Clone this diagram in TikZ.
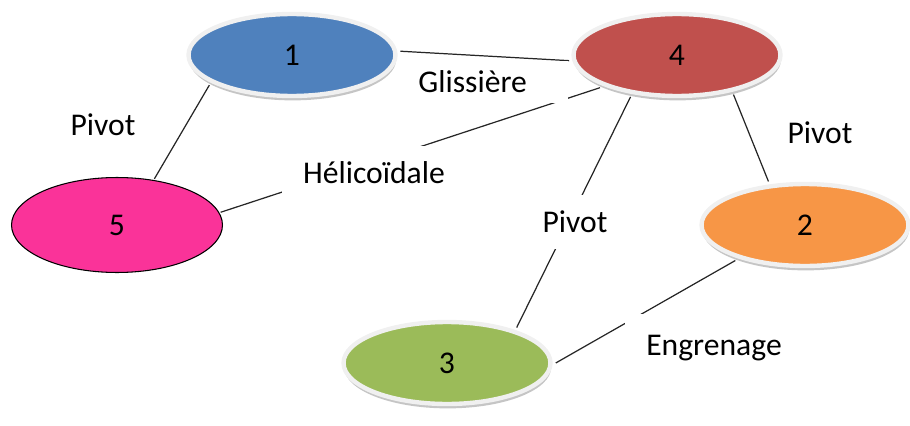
\documentclass[tikz,border=0pt]{standalone}
\usepackage{fontspec}
\setmainfont{Carlito}
\usepackage{tikz}
\usetikzlibrary{shapes.geometric,shadows}

\definecolor{bleu}{HTML}{4F81BD}
\definecolor{rouge}{HTML}{C0504D}
\definecolor{rose}{HTML}{FA3399}
\definecolor{orange}{HTML}{F79646}
\definecolor{vert}{HTML}{9BBB59}

\tikzset{
  forme/.style={ellipse, inner sep=0pt, font=\fontsize{18}{21}\selectfont},
  piece/.style={forme, draw=gray!12, line width=2.5pt, outer sep=3pt,
    minimum width=4.14cm, minimum height=1.64cm,
    drop shadow={shadow xshift=0.4pt, shadow yshift=-2.5pt, fill=black!45, opacity=.5}},
  liaison/.style={fill=white, inner sep=0pt, font=\fontsize{18}{21}\selectfont},
  lien/.style={line width=.7pt, black!85}
}

\begin{document}
\begin{tikzpicture}[x=0.02cm,y=-0.02cm]
  \useasboundingbox (0,0) rectangle (910,426);

  \node[piece, fill=bleu] (node1) at (292,55) {1};
  \node[piece, fill=rouge] (node4) at (677,55) {4};
  \node[piece, fill=orange] (node2) at (805,225) {2};
  \node[piece, fill=vert] (node3) at (447,363) {3};
  \node[forme, fill=rose, draw=black, line width=.6pt, outer sep=1pt,
        minimum width=4.22cm, minimum height=1.9cm] (node5) at (117,225) {5};

  \draw[lien] (node1.2) -- (node4.183);
  \draw[lien] (node1.200) -- (node5.51);
  \draw[lien] (node5.7) -- (node4.203);
  \draw[lien] (node4.222) -- (node3.27);
  \draw[lien] (node4.325) -- (node2.130);
  \draw[lien] (node2.207) -- (node3.0);

  \node[liaison, anchor=west, text width=3cm, align=left, inner ysep=0.2cm] (rel1) at (418,82) {Glissière};
  \node[liaison] (rel2) at (103,125) {Pivot};
  \node[liaison, inner xsep=0.42cm, inner ysep=0.32cm] (rel3) at (374,173) {Hélicoïdale};
  \node[liaison] (rel4) at (820,133) {Pivot};
  \node[liaison, inner xsep=0.1cm, inner ysep=0.32cm] (rel5) at (575,222) {Pivot};
  \node[liaison, inner sep=0.42cm] (rel6) at (714,348) {Engrenage};
\end{tikzpicture}
\end{document}
